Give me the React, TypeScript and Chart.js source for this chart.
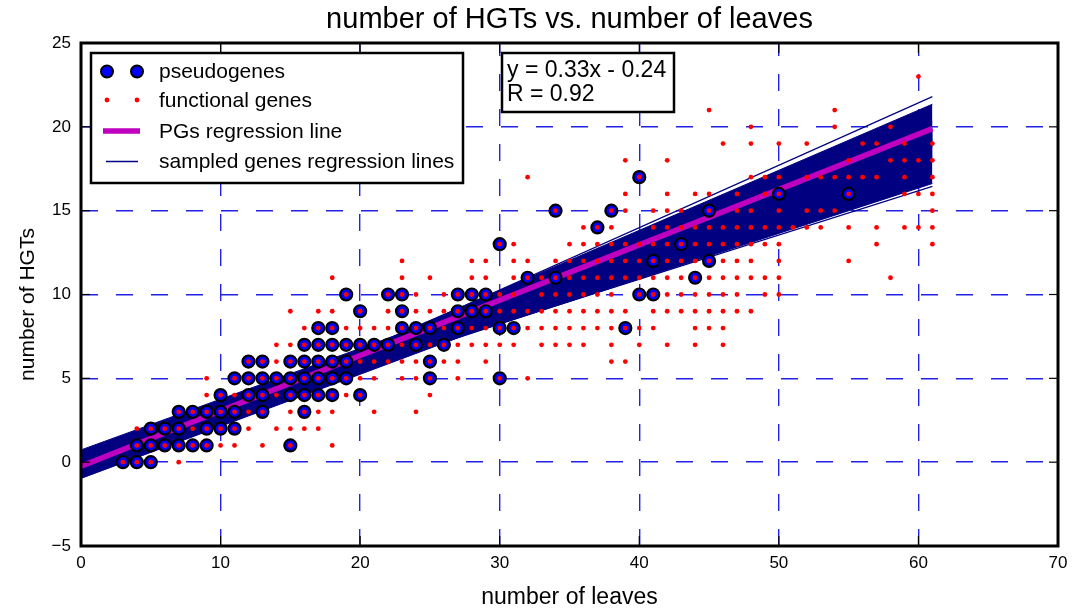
import React, { useEffect, useRef } from "react";
import { Chart, registerables } from "chart.js";

Chart.register(...registerables);

const TITLE = "number of HGTs vs. number of leaves";
const X_LABEL = "number of leaves";
const Y_LABEL = "number of HGTs";
const EQUATION_LINES = ["y = 0.33x - 0.24", "R = 0.92"];

const X_TICKS = [0, 10, 20, 30, 40, 50, 60, 70];
const Y_TICKS = [-5, 0, 5, 10, 15, 20, 25];

// pseudogenes: [number of HGTs, ...number of leaves]
const pseudogeneRows: number[][] = [
  [0, 3, 4, 5],
  [1, 4, 5, 6, 7, 8, 9, 15],
  [2, 5, 6, 7, 9, 10, 11],
  [3, 7, 8, 9, 10, 11, 13, 16],
  [4, 10, 12, 13, 15, 16, 17, 18, 20],
  [5, 11, 12, 13, 14, 15, 16, 17, 18, 19, 25, 30],
  [6, 12, 13, 15, 16, 17, 18, 19, 25],
  [7, 16, 17, 18, 19, 20, 21, 22, 24, 26],
  [8, 17, 18, 23, 24, 25, 27, 30, 31, 39],
  [9, 20, 23, 27, 28, 29],
  [10, 19, 22, 23, 27, 28, 29, 40, 41],
  [11, 32, 34, 44],
  [12, 41, 45],
  [13, 30, 43],
  [14, 37],
  [15, 34, 38, 45],
  [16, 50, 55],
  [17, 40],
];

// functional genes: [number of HGTs, ...number of leaves]
const functionalRows: number[][] = [
  [0, 3, 4, 5, 7],
  [1, 4, 5, 6, 7, 8, 9, 10, 11, 13, 15, 18],
  [2, 4, 5, 6, 7, 8, 9, 10, 11, 12, 14, 15, 16, 17],
  [3, 7, 8, 9, 10, 11, 12, 13, 15, 16, 17, 18, 21, 24],
  [4, 9, 10, 11, 12, 13, 14, 15, 16, 17, 18, 19, 20, 25],
  [5, 9, 11, 12, 13, 14, 15, 16, 17, 18, 19, 20, 21, 23, 24, 25, 27, 30, 32],
  [6, 12, 13, 14, 15, 16, 17, 18, 19, 20, 21, 22, 23, 24, 25, 26, 27, 29, 38, 39],
  [7, 14, 15, 16, 17, 18, 19, 20, 21, 22, 23, 24, 25, 26, 27, 28, 29, 30, 31, 33, 34, 35, 36, 38, 40, 42, 44, 46],
  [8, 16, 17, 18, 19, 20, 21, 22, 23, 24, 25, 26, 27, 28, 29, 30, 31, 32, 33, 34, 35, 36, 37, 38, 39, 40, 41, 44, 45, 46],
  [9, 15, 17, 18, 20, 22, 23, 24, 25, 26, 27, 28, 29, 30, 31, 32, 33, 34, 35, 36, 37, 38, 39, 41, 42, 43, 44, 45, 46, 47, 48],
  [10, 19, 22, 23, 24, 26, 27, 28, 29, 30, 31, 33, 34, 35, 36, 37, 38, 40, 41, 42, 43, 44, 45, 46, 47, 49, 50],
  [11, 18, 23, 25, 28, 29, 31, 32, 33, 34, 35, 36, 37, 38, 39, 40, 41, 42, 43, 44, 45, 46, 47, 48, 49, 50, 58],
  [12, 23, 28, 29, 31, 32, 34, 35, 36, 37, 38, 39, 40, 41, 42, 43, 44, 45, 46, 47, 48, 50, 55],
  [13, 30, 31, 35, 36, 37, 38, 39, 40, 41, 42, 43, 44, 45, 46, 47, 48, 49, 50, 57, 61],
  [14, 36, 37, 38, 41, 42, 43, 44, 45, 46, 47, 48, 49, 50, 51, 52, 53, 55, 57, 59, 60, 61],
  [15, 34, 38, 39, 41, 42, 43, 45, 47, 48, 50, 52, 53, 54, 61],
  [16, 39, 42, 44, 45, 47, 49, 50, 55, 59, 60, 61],
  [17, 32, 40, 48, 49, 50, 52, 53, 54, 55, 56, 57, 59, 61],
  [18, 39, 42, 55, 58, 59, 60, 61],
  [19, 46, 48, 50, 52, 56, 57, 59, 61],
  [20, 48, 54, 58],
  [21, 45, 54],
  [23, 60],
];

// regression lines span these numbers of leaves
const LINE_X = [0, 61];
// PGs regression line: HGTs at the two ends
const pgLineY = [-0.24, 19.89];
// sampled genes regression lines (dense band): HGTs at x = 0 and x = 61
const sampledBandStart = [0.73, -0.5, -0.97, 0.1, 0.0, -0.6, 0.4, -0.3];
const sampledBandEnd = [19.2, 21.35, 17.97, 16.62, 20.3, 19.0, 18.2, 18.8];
// sampled genes regression lines that stand apart from the band
const sampledOutlierStart = [-0.9, 0.35];
const sampledOutlierEnd = [21.8, 16.45];

const FONT = "'Liberation Sans', Arial, Helvetica, sans-serif";
const NAVY = "#000080";
const MAGENTA = "#bf00bf";
const GRID_BLUE = "#2222e6";

const rowsToPoints = (rows: number[][]) =>
  rows.flatMap(([y, ...xs]) => xs.map((x) => ({ x, y })));

const linePoints = (y0: number, y1: number) => [
  { x: LINE_X[0], y: y0 },
  { x: LINE_X[1], y: y1 },
];

const overlayPlugin = {
  id: "overlay",
  afterDraw(chart: any) {
    const { ctx, chartArea: a, scales } = chart;
    const ds = chart.data.datasets;
    ctx.save();
    const seg = (x1: number, y1: number, x2: number, y2: number) => {
      ctx.beginPath();
      ctx.moveTo(x1, y1);
      ctx.lineTo(x2, y2);
      ctx.stroke();
    };
    // inward ticks on all four sides
    ctx.strokeStyle = "#000";
    ctx.lineWidth = 1.2;
    ctx.setLineDash([]);
    X_TICKS.forEach((v) => {
      const px = scales.x.getPixelForValue(v);
      seg(px, a.bottom, px, a.bottom - 10);
      seg(px, a.top, px, a.top + 10);
    });
    Y_TICKS.forEach((v) => {
      const py = scales.y.getPixelForValue(v);
      seg(a.left, py, a.left + 9, py);
      seg(a.right, py, a.right - 9, py);
    });
    // frame
    ctx.lineWidth = 3;
    ctx.strokeRect(a.left, a.top, a.right - a.left, a.bottom - a.top);

    // y axis title
    ctx.save();
    ctx.translate(28, (a.top + a.bottom) / 2 + 10);
    ctx.rotate(-Math.PI / 2);
    ctx.fillStyle = "#000";
    ctx.font = `21px ${FONT}`;
    ctx.textAlign = "center";
    ctx.textBaseline = "middle";
    ctx.fillText(Y_LABEL, 0, 0);
    ctx.restore();

    // legend
    const lx = a.left + 10;
    const ly = a.top + 10;
    const lw = 372;
    const lh = 130;
    ctx.fillStyle = "#fff";
    ctx.fillRect(lx, ly, lw, lh);
    ctx.lineWidth = 2.5;
    ctx.strokeStyle = "#000";
    ctx.strokeRect(lx, ly, lw, lh);
    const rows = [ly + 18.5, ly + 47, ly + 78, ly + 108.5];
    const s1 = lx + 16;
    const s2 = lx + 46;
    [s1, s2].forEach((sx) => {
      ctx.beginPath();
      ctx.arc(sx, rows[0], 6, 0, Math.PI * 2);
      ctx.fillStyle = "#0000ff";
      ctx.fill();
      ctx.lineWidth = 2;
      ctx.strokeStyle = "#000";
      ctx.stroke();
    });
    [s1, s2].forEach((sx) => {
      ctx.beginPath();
      ctx.arc(sx, rows[1], 2.4, 0, Math.PI * 2);
      ctx.fillStyle = "#ff0000";
      ctx.fill();
    });
    ctx.strokeStyle = MAGENTA;
    ctx.lineWidth = 5.5;
    seg(lx + 12, rows[2], lx + 49, rows[2]);
    ctx.strokeStyle = NAVY;
    ctx.lineWidth = 1.5;
    seg(lx + 15, rows[3], lx + 47, rows[3]);

    ctx.fillStyle = "#000";
    ctx.font = `21px ${FONT}`;
    ctx.textBaseline = "middle";
    ctx.textAlign = "left";
    const labels = [ds[1].label, ds[0].label, ds[2].label, ds[3].label];
    labels.forEach((t: string, i: number) => ctx.fillText(t, lx + 68, rows[i] + 1));

    // equation box
    const ex = a.left + 421;
    const ey = a.top + 10;
    ctx.fillStyle = "#fff";
    ctx.fillRect(ex, ey, 172, 59);
    ctx.strokeStyle = "#000";
    ctx.lineWidth = 2.5;
    ctx.strokeRect(ex, ey, 172, 59);
    ctx.fillStyle = "#000";
    ctx.font = `23px ${FONT}`;
    EQUATION_LINES.forEach((t, i) => ctx.fillText(t, ex + 5, ey + 18 + i * 24));
    ctx.restore();
  },
};

export default function App() {
  const canvasRef = useRef<HTMLCanvasElement | null>(null);

  useEffect(() => {
    const canvas = canvasRef.current;
    if (!canvas) return;
    Chart.defaults.font.family = FONT;
    Chart.defaults.color = "#000";

    const pgIndex = 2;
    const bandSets = sampledBandStart.map((y0, i) => ({
      label: "sampled genes regression lines",
      data: linePoints(y0, sampledBandEnd[i]),
      showLine: true,
      borderColor: NAVY,
      backgroundColor: NAVY,
      borderWidth: 1,
      pointRadius: 0,
      fill: pgIndex,
      order: 4,
    }));
    const outlierSets = sampledOutlierStart.map((y0, i) => ({
      label: "sampled genes regression lines",
      data: linePoints(y0, sampledOutlierEnd[i]),
      showLine: true,
      borderColor: NAVY,
      backgroundColor: NAVY,
      borderWidth: 1.2,
      pointRadius: 0,
      fill: false,
      order: 3,
    }));

    const chart = new Chart(canvas, {
      type: "line",
      data: {
        datasets: [
          {
            label: "functional genes",
            data: rowsToPoints(functionalRows),
            showLine: false,
            pointRadius: 2.4,
            pointBorderWidth: 0,
            pointBackgroundColor: "#ff0000",
            pointBorderColor: "#ff0000",
            order: 0,
          },
          {
            label: "pseudogenes",
            data: rowsToPoints(pseudogeneRows),
            showLine: false,
            pointRadius: 6,
            pointBorderWidth: 2.2,
            pointBackgroundColor: "#0000ff",
            pointBorderColor: "#000000",
            order: 1,
          },
          {
            label: "PGs regression line",
            data: linePoints(pgLineY[0], pgLineY[1]),
            showLine: true,
            borderColor: MAGENTA,
            borderWidth: 5.5,
            borderCapStyle: "butt",
            pointRadius: 0,
            fill: false,
            order: 2,
          },
          ...bandSets,
          ...outlierSets,
        ] as any,
      },
      plugins: [overlayPlugin],
      options: {
        animation: false,
        responsive: false,
        devicePixelRatio: 1,
        layout: { padding: { left: 0, right: 25, top: 0, bottom: 0 } },
        elements: { line: { tension: 0 } },
        plugins: {
          legend: { display: false },
          tooltip: { enabled: false },
          title: {
            display: true,
            fullSize: false,
            text: TITLE,
            color: "#000",
            font: { size: 29, weight: "normal", family: FONT, lineHeight: 1.2 },
            padding: { top: 3, bottom: 5.2 },
          },
        },
        scales: {
          x: {
            type: "linear",
            min: 0,
            max: 70,
            z: 1,
            afterFit: (s: any) => {
              s.height = 65;
            },
            ticks: {
              stepSize: 10,
              padding: 7,
              maxRotation: 0,
              autoSkip: false,
              color: "#000",
              font: { size: 17, family: FONT },
            },
            grid: {
              color: GRID_BLUE,
              lineWidth: 1.4,
              drawTicks: false,
            },
            border: { display: false, dash: [17, 18], dashOffset: 4 },
            title: {
              display: true,
              text: X_LABEL,
              color: "#000",
              font: { size: 23, family: FONT, lineHeight: 1.0 },
              padding: { top: 0, bottom: 1.5 },
            },
          },
          y: {
            type: "linear",
            min: -5,
            max: 25,
            z: 1,
            afterFit: (s: any) => {
              s.width = 81;
            },
            ticks: {
              stepSize: 5,
              padding: 10,
              autoSkip: false,
              color: "#000",
              font: { size: 17, family: FONT },
              callback: (v: any) => (Number(v) < 0 ? "\u2212" + Math.abs(Number(v)) : String(v)),
            },
            grid: {
              color: GRID_BLUE,
              lineWidth: 1.4,
              drawTicks: false,
            },
            border: { display: false, dash: [17, 18], dashOffset: 0 },
            title: { display: false, text: Y_LABEL },
          },
        },
      } as any,
    });

    return () => {
      chart.destroy();
    };
  }, []);

  return (
    <div style={{ position: "absolute", left: 0, top: 0, width: 1083, height: 611, background: "#fff" }}>
      <canvas ref={canvasRef} width={1083} height={611} style={{ display: "block" }} />
    </div>
  );
}
